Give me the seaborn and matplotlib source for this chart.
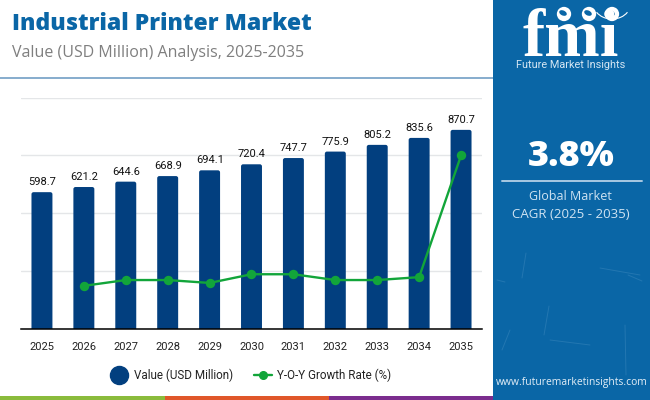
import matplotlib
matplotlib.use("Agg")
import matplotlib.pyplot as plt
import seaborn as sns
from matplotlib.lines import Line2D
from matplotlib.patches import Rectangle, FancyBboxPatch, Circle, Arc, Ellipse
from pandas import DataFrame

years = ["2025","2026","2027","2028","2029","2030","2031","2032","2033","2034","2035"]
values = [598.7,621.2,644.6,668.9,694.1,720.4,747.7,775.9,805.2,835.6,870.7]
growth = [None,3.775,3.785,3.785,3.78,3.795,3.795,3.785,3.785,3.79,4.0]
value_ticks = [0,253,506,759,1012]
growth_ticks = [3.7,3.8,3.9,4.0,4.1]

navy = "#023F7F"
green = "#12A53A"
panel = "#0A66A6"
W,H = 650,400

sns.set_theme(style="white")
plt.rcParams['font.family'] = ['Roboto','DejaVu Sans']

df = DataFrame({"year":years,"value":values,"growth":growth})
df["growth"] = df["growth"].astype(float)

fig = plt.figure(figsize=(W/100,H/100),dpi=100,facecolor="white")
# chart axes, placed in pixels
ax = fig.add_axes([21/W,1-329.3/H,461/W,231.8/H])
sns.barplot(data=df,x="year",y="value",order=years,color=navy,saturation=1,width=0.5,ax=ax,zorder=2)
ax.set_xlim(-0.5,10.5)
ax.set_ylim(0,1012)
ax.set_yticks(value_ticks)
ax.set_yticklabels([])
ax.grid(axis="y",color="#E4E6E8",linewidth=1)
ax.set_axisbelow(True)
ax.set_xlabel("")
ax.set_ylabel("")
sns.despine(ax=ax,left=True)
ax.spines["bottom"].set_color("black")
ax.spines["bottom"].set_linewidth(1.1)
ax.tick_params(axis="x",length=0,pad=9,labelsize=8,labelcolor="#222222")
ax.tick_params(axis="y",length=0)

# give the bars slightly rounded tops
aspect = (1012/231.8)/(11/461)
for bar in list(ax.patches):
    x,w,h = bar.get_x(),bar.get_width(),bar.get_height()
    ax.add_patch(FancyBboxPatch((x,-30),w,h+30,boxstyle="round,pad=0,rounding_size=0.05",
                                mutation_aspect=aspect,fc=navy,ec="none",zorder=2))
    bar.remove()
    ax.text(x+w/2+0.01,h+22,f"{h:.1f}",ha="center",va="bottom",fontsize=8,color="#111111")

ax2 = ax.twinx()
sns.pointplot(data=df,x="year",y="growth",order=years,color=green,errorbar=None,
              markersize=5.5,linewidth=1.7,ax=ax2)
ax2.set_xlim(-0.5,10.5)
ax2.set_ylim(growth_ticks[0],growth_ticks[-1])
ax2.set_yticks([])
ax2.set_xlabel("")
ax2.set_ylabel("")
sns.despine(ax=ax2,left=True,right=True,bottom=True)
ax2.patch.set_visible(False)

# overlay in pixel coordinates for header, side panel and footer
ov = fig.add_axes([0,0,1,1],zorder=5)
ov.set_xlim(0,W)
ov.set_ylim(H,0)
ov.axis("off")
ov.patch.set_visible(False)
ov.add_patch(Rectangle((493,0),157,400,fc=panel,ec="none"))
ov.add_patch(Rectangle((0,396),165,4,fc="#8ABB3C",ec="none"))
ov.add_patch(Rectangle((165,396),164,4,fc="#E0572A",ec="none"))
ov.add_patch(Rectangle((329,396),164,4,fc="#7B2D8E",ec="none"))
ov.plot([0,493],[78,78],color="#86ACCD",lw=1.4,solid_capstyle="butt")

ov.text(12,23.5,"Industrial Printer Market",fontsize=16.6,fontweight="heavy",family="Open Sans",color="#0A66A6",va="center")
ov.text(12,53,"Value (USD Million) Analysis, 2025-2035",fontsize=11.55,family="Open Sans",color="#7F7F7F",va="center")

# side panel
ov.text(571.5,157,"3.8%",fontsize=26,fontweight="heavy",family="Open Sans",color="white",ha="center",va="center")
ov.plot([502,642],[181,181],color="#A9C9E2",lw=1.4)
ov.text(570,197,"Global Market",fontsize=9,family="Open Sans",color="#CFE3F2",ha="center",va="center")
ov.text(571,214,"CAGR (2025 - 2035)",fontsize=9.5,family="Open Sans",color="#CFE3F2",ha="center",va="center")
ov.text(572,383,"www.futuremarketinsights.com",fontsize=7.4,family="Open Sans",color="#E3EEF7",ha="center",va="center")

# faint scratches on the panel
for (x0,y0,x1,y1) in [(526,253,522,278),(497,280,505,282),(628,275,642,281),(549,306,544,335),
                      (625,325,626,375),(550,340,590,345),(600,268,640,275),(510,330,502,350)]:
    ov.plot([x0,x1],[y0,y1],color="#5C9DCB",lw=0.7,alpha=0.3)

# logo
ov.text(571,55.5,"fmi",fontsize=48,fontweight="bold",family="Liberation Serif",color="white",ha="center",va="baseline")
for y in range(27,56,4):
    ov.plot([512,632],[y,y],color=panel,lw=0.7)
for cx,cy in [(564,14),(589,14),(612,14)]:
    ov.add_patch(Circle((cx,cy),8,fc="white",ec=panel,lw=1.2))
    ov.add_patch(Ellipse((cx-1,cy-1),8,5,angle=25,fc=panel,ec="none"))
ov.add_patch(Arc((612,5),36,28,theta1=25,theta2=155,color="white",lw=0.8))
ov.text(571,64.5,"Future Market Insights",fontsize=7.8,color="#D5E6F3",ha="center",va="center")

handles = [Line2D([],[],linestyle="none",marker="o",markersize=13,color=navy),
           Line2D([],[],color=green,marker="o",markersize=5.5,lw=1.7)]
fig.legend(handles,["Value (USD Million)","Y-O-Y Growth Rate (%)"],ncol=2,frameon=False,
           loc="center",bbox_to_anchor=(251/W,1-375/H),fontsize=8.4,columnspacing=1.8,
           handletextpad=0.5,handlelength=1.5,labelcolor="#222222")

fig.savefig("out.png",dpi=100)
